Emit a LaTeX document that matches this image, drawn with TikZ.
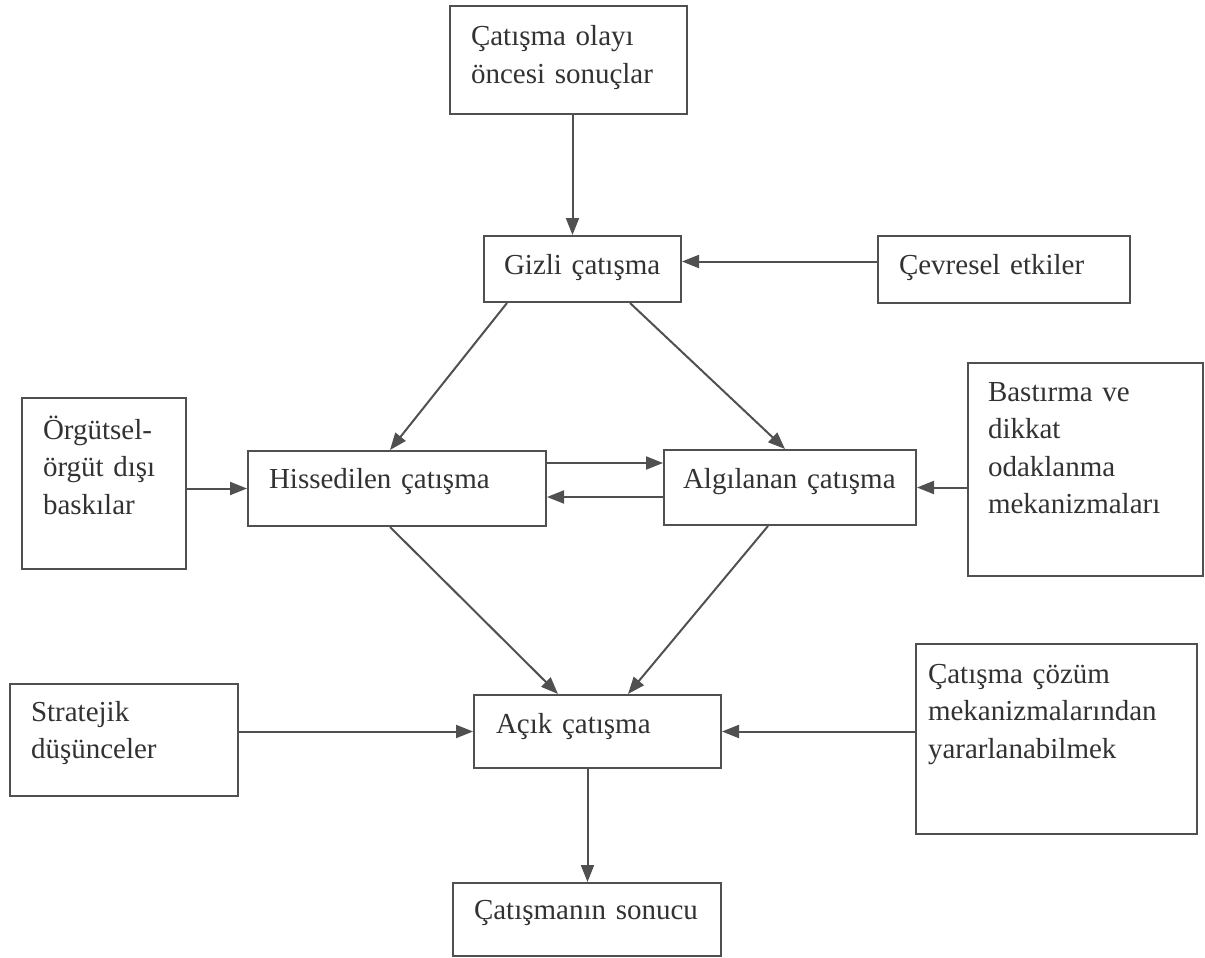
\documentclass[tikz,border=0pt]{standalone}
\usepackage{fontspec}
\setmainfont{Liberation Serif}
\usetikzlibrary{arrows.meta,calc,positioning}
\definecolor{linegray}{RGB}{80,80,80}
\definecolor{textgray}{RGB}{50,50,50}

\begin{document}
\begin{tikzpicture}[x=1pt,y=-1pt,
    box/.style n args={4}{draw=linegray, line width=2pt, anchor=north west, align=left,
      text=textgray, font=\fontsize{29pt}{37.5pt}\selectfont,
      inner ysep=0pt, text width=#1, inner xsep=#2, text height=#3, text depth=#4},
    arr/.style={draw=linegray, line width=2pt, -{Triangle[length=17pt,width=13pt]}}]
        \useasboundingbox (0,0) rectangle (1205,958);

        \node[box={195pt}{21pt}{40pt}{68pt}] (prior) at (449,5) {Çatışma olayı\\öncesi sonuçlar};
        \node[box={157pt}{20pt}{38pt}{28pt}] (gizli) at (483,235) {Gizli çatışma};
        \node[box={210pt}{21pt}{38pt}{29pt}] (cevre) at (877,235) {Çevresel etkiler};

        \node[box={122pt}{21pt}{41pt}{130pt}] (orgut) at (21,397) {Örgütsel-\\örgüt dışı\\baskılar};
        \node[box={256pt}{21pt}{37pt}{38pt}] (hiss) at (247,450) {Hissedilen çatışma};
        \node[box={214pt}{19pt}{38pt}{37pt}] (algi) at (663,449) {Algılanan çatışma};
        \node[box={195pt}{20pt}{38pt}{175pt}] (bast) at (967,362) {Bastırma ve\\dikkat\\odaklanma\\mekanizmaları};

        \node[box={186pt}{21pt}{37pt}{75pt}] (strat) at (9,683) {Stratejik\\düşünceler};
        \node[box={203pt}{22pt}{38pt}{35pt}] (acik) at (473,694) {Açık çatışma};
        \node[box={257pt}{12pt}{39pt}{151pt}] (cozum) at (915,643) {Çatışma çözüm\\mekanizmalarından\\yararlanabilmek};

        \node[box={226pt}{21pt}{36pt}{37pt}] (sonuc) at (452,882) {Çatışmanın sonucu};

        \draw[arr] ([xshift=4pt]prior.south) -- ([xshift=4pt]prior.south |- gizli.north);
        \draw[arr] ([yshift=8pt]cevre.west) -- ([yshift=8pt]cevre.west -| gizli.east);
        \draw[arr] ([xshift=24pt]gizli.south west) -- ([xshift=143pt]hiss.north west);
        \draw[arr] ([xshift=-52pt]gizli.south east) -- ([xshift=122pt]algi.north west);

        \draw[arr] ([yshift=-13pt]hiss.north east) -- ([yshift=-13pt]hiss.north east -| algi.west);
        \draw[arr] ([yshift=-47pt]hiss.north east -| algi.west) -- ([yshift=-47pt]hiss.north east);
        \draw[arr] (orgut.east |- hiss.west) -- (hiss.west);
        \draw[arr] (bast.west |- algi.east) -- (algi.east);

        \draw[arr] ([xshift=143pt]hiss.south west) -- ([xshift=85pt]acik.north west);
        \draw[arr] ([xshift=105pt]algi.south west) -- ([xshift=155pt]acik.north west);
        \draw[arr] (strat.east |- acik.west) -- (acik.west);
        \draw[arr] (cozum.west |- acik.east) -- (acik.east);
        \draw[arr] ([xshift=-10pt]acik.south) -- ([xshift=-10pt]acik.south |- sonuc.north);
\end{tikzpicture}
\end{document}
